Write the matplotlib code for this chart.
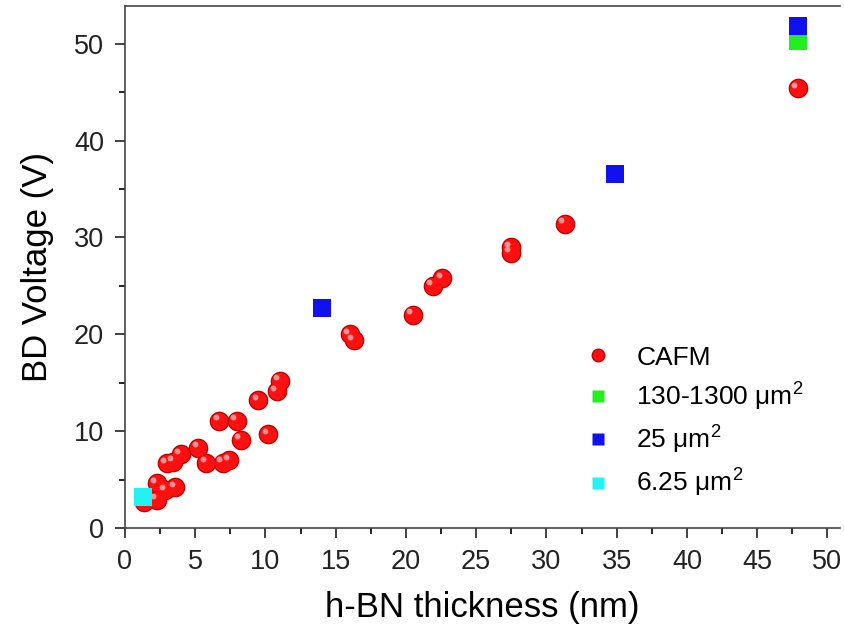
import matplotlib
matplotlib.use("Agg")
import matplotlib.pyplot as plt
import matplotlib.transforms as mtransforms

plt.rcParams['font.family'] = ['Liberation Sans', 'DejaVu Sans']
plt.rcParams['mathtext.fontset'] = 'custom'
plt.rcParams['mathtext.rm'] = 'Liberation Sans'
plt.rcParams['mathtext.it'] = 'Liberation Sans'

# CAFM breakdown voltages vs h-BN thickness
cafm_t = [1.35, 2.26, 2.26, 2.85, 3.56, 2.97, 3.44, 3.97, 5.2, 5.77, 6.96, 7.43,
          6.7, 7.95, 8.24, 9.5, 10.2, 10.8, 11.0, 16.0, 16.3, 20.5, 21.9, 22.6,
          27.45, 27.45, 31.3, 47.9]
cafm_v = [2.7, 2.9, 4.6, 3.9, 4.2, 6.7, 6.85, 7.6, 8.3, 6.75, 6.75, 7.0,
          11.1, 11.1, 9.1, 13.2, 9.7, 14.1, 15.2, 20.0, 19.4, 22.0, 25.0, 25.8,
          29.0, 28.4, 31.4, 45.4]

# device breakdown by area
big_t = [47.9]
big_v = [50.3]
mid_t = [14.0, 34.9, 47.9]
mid_v = [22.7, 36.6, 51.8]
small_t = [1.3]
small_v = [3.2]

fig = plt.figure(figsize=(8.45, 6.28), dpi=100)
ax = fig.add_axes([125 / 845, 100 / 628, 715 / 845, 522 / 628])

# red "spheres": dark base, red body, light highlight
ax.scatter(cafm_t, cafm_v, s=200, color='#c00000', zorder=3, linewidths=0)
ax.scatter(cafm_t, cafm_v, s=150, color='#ff1010', zorder=3, linewidths=0)
hl = ax.transData + mtransforms.ScaledTranslation(-2.5 / 72, 2.5 / 72, fig.dpi_scale_trans)
ax.scatter(cafm_t, cafm_v, s=18, color='#ff9090', zorder=4, linewidths=0, transform=hl)

ax.scatter(big_t, big_v, marker='s', s=180, color='#22ee22', zorder=5, linewidths=0)
ax.scatter(mid_t, mid_v, marker='s', s=180, color='#1010f0', zorder=5, linewidths=0)
ax.scatter(small_t, small_v, marker='s', s=180, color='#22f2f2', zorder=5, linewidths=0)

# legend handles
ax.plot([], [], 'o', ms=9, color='#ff1010', mec='#c00000', label='CAFM')
ax.plot([], [], 's', ms=8, color='#22ee22', mec='none', label='130-1300 μm$^2$')
ax.plot([], [], 's', ms=8, color='#1010f0', mec='none', label='25 μm$^2$')
ax.plot([], [], 's', ms=8, color='#22f2f2', mec='none', label='6.25 μm$^2$')
ax.legend(loc='upper left', bbox_to_anchor=(0.61, 0.395), frameon=False,
          fontsize=19, handletextpad=0.95, labelspacing=0.42, handlelength=1.0)

ax.set_xlim(0, 50.9)
ax.set_ylim(0, 53.9)
ax.set_xticks(range(0, 51, 5))
ax.set_xticks([x + 2.5 for x in range(0, 50, 5)], minor=True)
ax.set_yticks(range(0, 51, 10))
ax.set_yticks(range(5, 55, 10), minor=True)
ax.tick_params(which='major', direction='out', length=7, width=1.2, labelsize=19.5, colors='#222222')
ax.tick_params(which='minor', direction='out', length=4, width=1.2)
ax.tick_params(axis='x', pad=8)
ax.tick_params(axis='y', pad=8)
ax.spines['right'].set_visible(False)
for s in ['left', 'bottom', 'top']:
    ax.spines[s].set_linewidth(1.2)
    ax.spines[s].set_color('#444444')

ax.set_xlabel('h-BN thickness (nm)', fontsize=25, labelpad=12)
ax.set_ylabel('BD Voltage (V)', fontsize=25, labelpad=14)

fig.savefig('out.png', dpi=100)
